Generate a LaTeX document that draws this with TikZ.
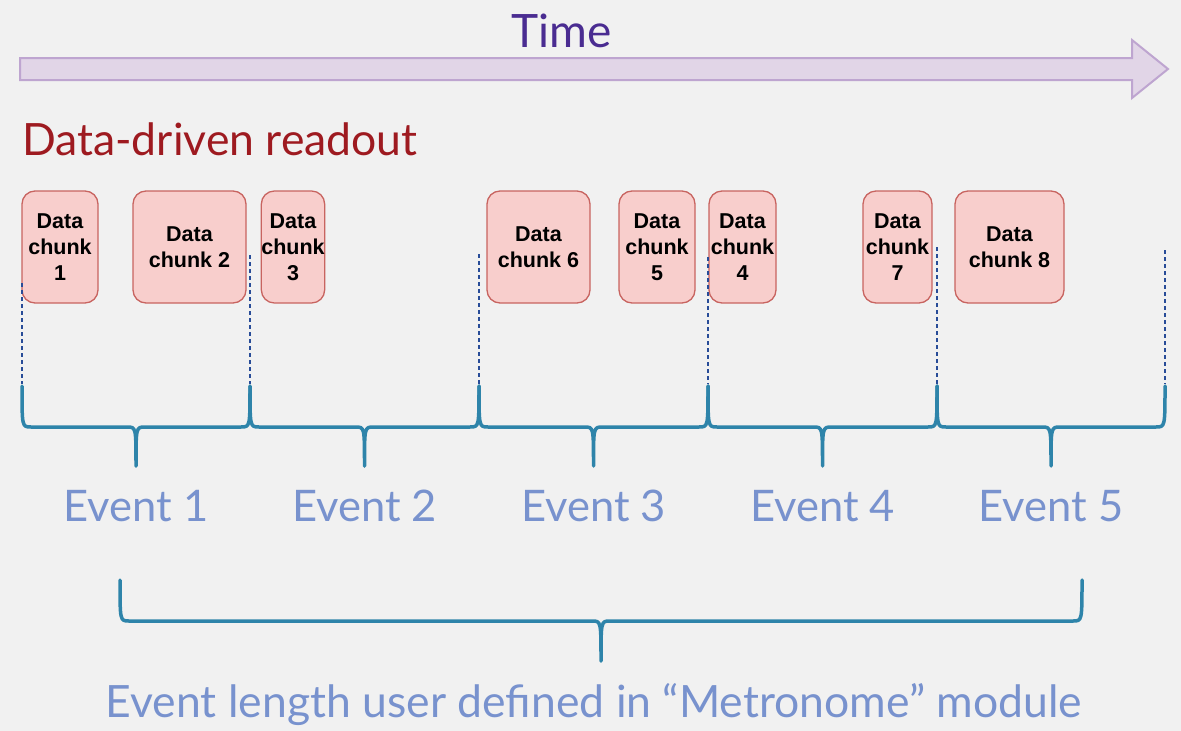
\documentclass[tikz,border=0pt]{standalone}
\usepackage{fontspec}
\setmainfont{Lato}
\newfontfamily\chunkfont{Liberation Sans}
\usetikzlibrary{positioning}

\definecolor{bgcol}{RGB}{241,241,241}
\definecolor{timefill}{RGB}{225,213,231}
\definecolor{timeline}{RGB}{190,165,208}
\definecolor{timetext}{RGB}{74,44,145}
\definecolor{readred}{RGB}{158,26,32}
\definecolor{chunkfill}{RGB}{248,206,204}
\definecolor{chunkline}{RGB}{200,100,96}
\definecolor{markblue}{RGB}{40,76,152}
\definecolor{bracecol}{RGB}{46,132,170}
\definecolor{eventtext}{RGB}{120,146,206}

% curly bracket: x1, x2, top, bar, tip
\newcommand{\eventbrace}[5]{%
  \pgfmathsetmacro{\xm}{(#1+#2)/2}
  \draw[brace] (#1,#3) .. controls (#1,#4) and (#1,#4) .. ({#1+9},#4) -- ({\xm-9},#4)
    .. controls (\xm,#4) and (\xm,#4) .. (\xm,#5)
    .. controls (\xm,#4) and (\xm,#4) .. ({\xm+9},#4) -- ({#2-9},#4)
    .. controls (#2,#4) and (#2,#4) .. (#2,#3);
}

\begin{document}
\begin{tikzpicture}[x=1pt, y=-1pt,
  chunk/.style={rectangle, draw=chunkline, fill=chunkfill, line width=1.3pt, rounded corners=13pt,
    minimum height=112pt, inner sep=0pt, align=center, font=\chunkfont\bfseries\fontsize{21.5}{26}\selectfont},
  marker/.style={markblue, line width=2.6pt, dash pattern=on 4pt off 3pt},
  brace/.style={bracecol, line width=3.5pt, line cap=round, line join=round},
  ev/.style={anchor=base, text=eventtext, font=\fontsize{43.5}{50}\selectfont}
]
\useasboundingbox (0,0) rectangle (1181,731);
\fill[bgcol] (0,0) rectangle (1181,731);

% time axis
\draw[timeline, fill=timefill, line width=2pt, line join=miter]
  (20,58) -- (1132,58) -- (1132,40) -- (1168,69) -- (1132,98) -- (1132,80) -- (20,80) -- cycle;
\node[text=timetext, font=\fontsize{46}{50}\selectfont, anchor=base] (time) at (562,47) {Time};

\node[text=readred, font=\fontsize{44.5}{48}\selectfont, anchor=base west, inner sep=0pt] (mode) at (22,155) {Data-driven readout};

% data chunks
\node[chunk, minimum width=76pt]  (c1) at (60,247)    {Data\\chunk\\1};
\node[chunk, minimum width=113pt] (c2) at (189.5,247) {Data\\chunk 2};
\node[chunk, minimum width=62pt]  (c3) at (293,247)   {Data\\chunk\\3};
\node[chunk, minimum width=103pt] (c6) at (538.5,247) {Data\\chunk 6};
\node[chunk, minimum width=76pt]  (c5) at (657,247)   {Data\\chunk\\5};
\node[chunk, minimum width=67pt]  (c4) at (742.5,247) {Data\\chunk\\4};
\node[chunk, minimum width=69pt]  (c7) at (897.5,247) {Data\\chunk\\7};
\node[chunk, minimum width=109pt] (c8) at (1009.5,247) {Data\\chunk 8};

% event boundaries
\foreach \x/\y in {22/283, 250/255, 479/254, 708/257, 937/247, 1165/250}
  \draw[marker] (\x,\y) -- (\x,384);

% events
\foreach \a/\b/\n in {22/250/1, 250/479/2, 479/708/3, 708/937/4, 937/1165/5} {
  \eventbrace{\a}{\b}{386}{427}{466}
  \node[ev] (ev\n) at ({(\a+\b)/2},521) {Event \n};
}

\eventbrace{120}{1082}{580}{621}{661}
\node[ev, font=\fontsize{44.5}{50}\selectfont] (len) at (594,717) {Event length user defined in “Metronome” module};
\end{tikzpicture}
\end{document}
